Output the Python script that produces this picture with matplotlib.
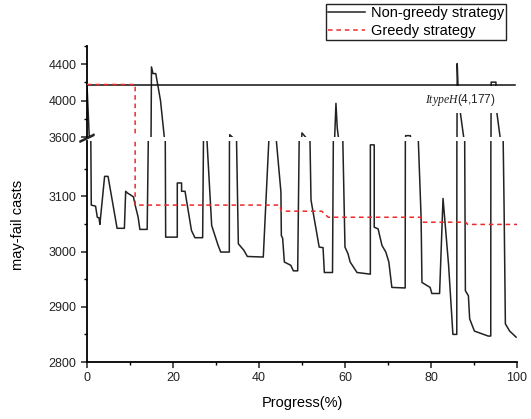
import matplotlib
matplotlib.use("Agg")
import matplotlib.pyplot as plt
from matplotlib.ticker import MultipleLocator, FixedLocator

plt.rcParams['font.family'] = ['Liberation Sans', 'DejaVu Sans']
plt.rcParams['mathtext.fontset'] = 'custom'
plt.rcParams['mathtext.it'] = 'Liberation Serif:italic'
plt.rcParams['mathtext.rm'] = 'Liberation Sans'

# non-greedy strategy (progress %, may-fail casts)
ng_x = [0, 1.0, 2.0, 2.4, 2.8, 3.0, 4.1, 4.9, 7.0, 8.7, 9.0, 9.4, 10.8, 11.3, 11.9, 12.3,
        14.0, 14.9, 15.0, 15.35, 16.0, 17.1, 18.0, 18.3, 21.0, 21.0, 22.0, 22.0, 22.8,
        24.3, 25.1, 26.9, 27.2, 29.0, 30.5, 31.1, 33.1, 33.2, 33.9, 35.2, 36.5, 37.3,
        41.0, 42.9, 45.1, 45.2, 45.5, 45.9, 47.4, 48.0, 49.0, 50.0, 51.0, 52.1, 54.0,
        54.9, 55.2, 57.1, 57.9, 58.2, 60.0, 60.7, 61.2, 62.8, 65.9, 65.9, 66.8, 66.8,
        67.7, 68.6, 69.5, 70.2, 70.9, 74.0, 74.1, 75.2, 75.3, 77.7, 77.9, 79.8, 80.2,
        82.0, 82.8, 84.1, 85.1, 86.0, 86.1, 86.3, 86.7, 87.6, 88.0, 88.7, 89.0, 90.1,
        93.3, 93.9, 94.0, 95.1, 95.2, 96.1, 97.0, 97.3, 98.3, 99.8]
ng_y = [4177, 3084, 3082, 3062, 3061, 3049, 3136, 3136, 3042, 3042, 3109, 3106, 3099, 3081, 3062, 3040,
        3040, 3600, 4370, 4297, 4297, 4000, 3590, 3026, 3026, 3124, 3124, 3109, 3109,
        3038, 3025, 3025, 3300, 3047, 3011, 2999, 2999, 3625, 3595, 3014, 3002, 2991,
        2990, 3300, 3108, 3029, 3024, 2981, 2975, 2965, 2965, 3645, 3590, 3093, 3008,
        3007, 2962, 2962, 3970, 3700, 3008, 2996, 2981, 2962, 2959, 3193, 3193, 3044,
        3041, 3011, 2999, 2981, 2935, 2934, 3615, 3615, 3580, 3062, 2944, 2935, 2924,
        2924, 3096, 2975, 2850, 2850, 4407, 4150, 3911, 3600, 2929, 2920, 2878, 2856,
        2847, 2847, 4203, 4203, 3911, 3590, 3081, 2869, 2856, 2845]

# greedy strategy
gr_x = [0, 11.2, 11.2, 44.8, 45.2, 54.6, 56.1, 77.6, 78.0, 88.1, 88.5, 100]
gr_y = [4177, 4177, 3084, 3084, 3073, 3073, 3062, 3062, 3053, 3053, 3049, 3049]

itypeh = 4177
hi_ticks = [3600, 4000, 4400]
lo_ticks = [2800, 2900, 3000, 3100]

fig = plt.figure(figsize=(5.31, 4.19), dpi=100)
ax_hi = fig.add_axes([0.1638, 0.6730, 0.8098, 0.2172])
ax_lo = fig.add_axes([0.1638, 0.1360, 0.8098, 0.5275])

for ax in (ax_hi, ax_lo):
    ax.plot(ng_x, ng_y, color='#222222', lw=1.1, label='Non-greedy strategy')
    ax.plot(gr_x, gr_y, color='#ee2a2a', lw=1.1, ls=(0, (3, 2.5)), label='Greedy strategy', zorder=4)
    ax.set_xlim(0, 100)
    ax.spines['top'].set_visible(False)
    ax.spines['right'].set_visible(False)
    ax.spines['left'].set_linewidth(1.3)
    ax.spines['bottom'].set_linewidth(1.3)
    ax.tick_params(direction='out', length=4, width=1.1, labelsize=9, colors='#222222')
    ax.tick_params(which='minor', direction='out', length=2.5, width=1.0)

ax_hi.set_ylim(3600, 4600)
ax_hi.spines['bottom'].set_visible(False)
ax_hi.set_xticks([])
ax_hi.set_yticks(hi_ticks)
ax_hi.yaxis.set_minor_locator(FixedLocator([3800, 4200, 4600]))
ax_hi.plot([0, 99.5], [itypeh, itypeh], color='#111111', lw=1.1)
ax_hi.text(78.6, 4011, r'$\mathit{ItypeH}$(4,177)', fontsize=8.5, ha='left', va='center',
           color='#222222', zorder=6,
           bbox=dict(boxstyle='square,pad=0.45', fc='white', ec='none'))

ax_lo.set_ylim(2800, 3200)
ax_lo.set_yticks(lo_ticks)
ax_lo.yaxis.set_minor_locator(FixedLocator([2850, 2950, 3050, 3150]))
ax_lo.xaxis.set_major_locator(MultipleLocator(20))
ax_lo.xaxis.set_minor_locator(MultipleLocator(10))
ax_lo.set_xlabel('Progress(%)', fontsize=10.5, labelpad=8)

# axis break marks
brk = dict(color='#222222', lw=1.1, clip_on=False)
ax_lo.plot([-0.016, 0.016], [0.995, 1.025], transform=ax_lo.transAxes, **brk)
ax_hi.plot([-0.016, 0.016], [-0.045, 0.03], transform=ax_hi.transAxes, **brk)

fig.text(0.034, 0.463, 'may-fail casts', rotation=90, ha='center', va='center', fontsize=10.5)

h, l = ax_lo.get_legend_handles_labels()
fig.legend(h, l, loc='upper right', bbox_to_anchor=(0.953, 0.99), fontsize=10.5,
           frameon=True, fancybox=False, edgecolor='#222222', framealpha=1,
           borderaxespad=0, borderpad=0.15, labelspacing=0.25, handlelength=2.5,
           handletextpad=0.4)

fig.savefig('out.png', dpi=100)
